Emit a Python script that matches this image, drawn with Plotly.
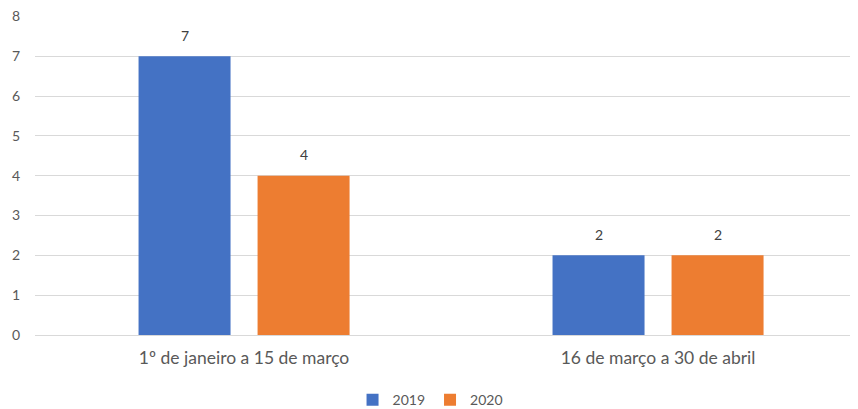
import plotly.graph_objects as go

categories = ["1º de janeiro a 15 de março", "16 de março a 30 de abril"]
series_names = ["2019", "2020"]
values_2019 = [7, 2]
values_2020 = [4, 2]
y_ticks = [0, 1, 2, 3, 4, 5, 6, 7, 8]

colors = ["#4472C4", "#ED7D31"]
font_family = "Lato, 'Open Sans', sans-serif"
text_color = "#595959"

fig = go.Figure()
for name, vals, col in zip(series_names, [values_2019, values_2020], colors):
    fig.add_trace(go.Bar(x=categories, y=vals, name=name, marker_color=col,
                         marker_line_width=0))

offsets = [-59.5, 59.5]
for off, vals in zip(offsets, [values_2019, values_2020]):
    for c, v in zip(categories, vals):
        fig.add_annotation(x=c, y=v, text=str(v), showarrow=False,
                           xshift=off, yshift=21,
                           font=dict(size=14, color="#404040", family=font_family))

# page body has an 8px default margin; figure sized to fill the rest of the window
fig.update_layout(
    width=850, height=401,
    margin=dict(l=27, r=0, t=8, b=74, autoexpand=False),
    paper_bgcolor="white", plot_bgcolor="white",
    barmode="group", bargap=0.425, bargroupgap=0.227,
    font=dict(family=font_family, color=text_color, size=14),
    showlegend=True,
    legend=dict(orientation="h", x=0.48, xanchor="center", y=-0.204, yanchor="middle",
                font=dict(size=14, color=text_color), itemwidth=30,
                traceorder="normal"),
    xaxis=dict(range=[-0.505, 1.483], showgrid=False, showline=True,
               linecolor="#D9D9D9", linewidth=1, ticks="", ticklabelstandoff=7,
               tickfont=dict(size=17.5, color=text_color)),
    yaxis=dict(range=[0, 8.01], tickvals=y_ticks, showgrid=True, gridcolor="#D9D9D9",
               gridwidth=1, zeroline=False, showline=False, ticks="",
               ticklabelstandoff=14, ticklabeloverflow="allow",
               tickfont=dict(size=14, color=text_color)),
)

fig.write_html("out.html")
